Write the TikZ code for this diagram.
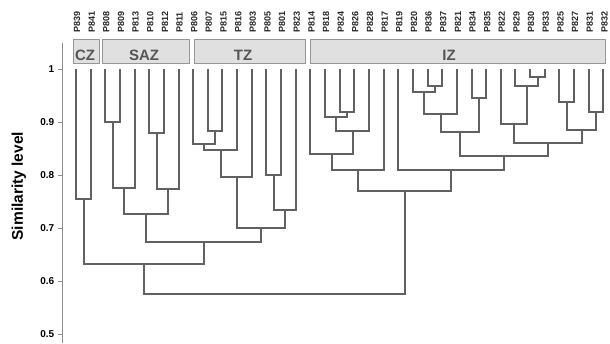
\documentclass[tikz,border=0pt]{standalone}
\usepackage{fontspec}
\setmainfont{Liberation Sans}
\usetikzlibrary{calc}
\definecolor{zonefill}{RGB}{224,224,224}
\definecolor{zoneline}{RGB}{150,150,150}
\definecolor{zonetext}{RGB}{85,85,85}
\tikzset{branch/.style = {draw = black!62,line width = 2pt},
leaflbl/.style = {rotate = 90,anchor = west,inner sep = 0pt,text = black!85,font = \bfseries\fontsize{9}{9}\selectfont},
zonebox/.style = {draw = zoneline,fill = zonefill,line width = 1pt,minimum height = 24pt,inner sep = 0pt},
zonelbl/.style = {anchor = base,inner sep = 0pt,text = zonetext,font = \bfseries\fontsize{15}{15}\selectfont},
axisline/.style = {draw = black!45,line width = .8pt},
ticklbl/.style = {anchor = east,inner sep = 0pt,font = \bfseries\fontsize{10}{10}\selectfont},
ytitle/.style = {rotate = 90,inner sep = 0pt,font = \bfseries\fontsize{15.5}{15.5}\selectfont}}

\begin{document}
\begin{tikzpicture}[x = 1pt,y = 530pt]
\useasboundingbox (0,0.48302) rectangle (610,1.13019);

% zone bars
\node[zonebox,minimum width = 26pt] (czbox) at (86.3,1.0321) {};
\node[zonebox,minimum width = 86.6pt] (sazbox) at (146,1.0321) {};
\node[zonebox,minimum width = 110.3pt] (tzbox) at (249.85,1.0321) {};
\node[zonebox,minimum width = 295.7pt] (izbox) at (457.85,1.0321) {};
\node[zonelbl] (cz) at (85,1.0151) {CZ};
\node[zonelbl] (saz) at (144,1.0151) {SAZ};
\node[zonelbl] (tz) at (243,1.0151) {TZ};
\node[zonelbl] (iz) at (449,1.0151) {IZ};

% leaves
\foreach \n [count = \i from 0] in {839,841,808,809,813,810,812,811,806,807,815,816,803,805,801,823,
814,818,824,826,828,817,819,820,836,837,821,834,835,822,829,830,833,825,827,831,832}
{
\coordinate (P\n) at ({round(76+14.65*\i)},1);
\node[leaflbl] (L\n) at ({77+14.65*\i},1.0679) {P\n};
}

% merges: name/left/right/level
\foreach \m/\a/\b/\s in {c1/P839/P841/.754,
s1/P808/P809/.900,s2/s1/P813/.776,s3/P810/P812/.880,s4/s3/P811/.774,s5/s2/s4/.726,
t1/P807/P815/.883,t2/P806/t1/.858,t3/t2/P816/.847,t4/t3/P803/.796,t5/P805/P801/.800,t6/t5/P823/.734,t7/t4/t6/.700,
st/s5/t7/.673,w/c1/st/.633,
i1/P824/P826/.919,i2/P818/i1/.909,i3/i2/P828/.883,i4/P814/i3/.840,i5/i4/P817/.809,
i6/P836/P837/.967,i7/P820/i6/.956,i8/i7/P821/.915,i9/P834/P835/.945,i10/i8/i9/.882,
i11/P830/P833/.985,i12/P829/i11/.967,i13/P822/i12/.896,i14/P825/P827/.937,i15/P831/P832/.918,i16/i14/i15/.884,i17/i13/i16/.860,
i18/i10/i17/.836,i19/P819/i18/.810,i20/i5/i19/.770,
root/w/i20/.575}
{
\path let \p1 = ($(\a)!.5!(\b)$) in coordinate (\m) at ({round(\x1)},{round(\s*530)/530});
\draw[branch] (\a) |- (\m) -| (\b);
}

% axis
\coordinate (axtop) at (62,1.049);
\coordinate (axbot) at (62,0.483);
\draw[axisline] (axtop) -- (axbot);
\foreach \lv [count = \k] in {1,0.9,0.8,0.7,0.6,0.5}
{
\draw[axisline] (58,\lv) -- (62,\lv);
\node[ticklbl] (tick\k) at (54.5,\lv) {\lv};
}
\node[ytitle] (ylabel) at (18.8,0.779) {Similarity level};
\end{tikzpicture}
\end{document}
